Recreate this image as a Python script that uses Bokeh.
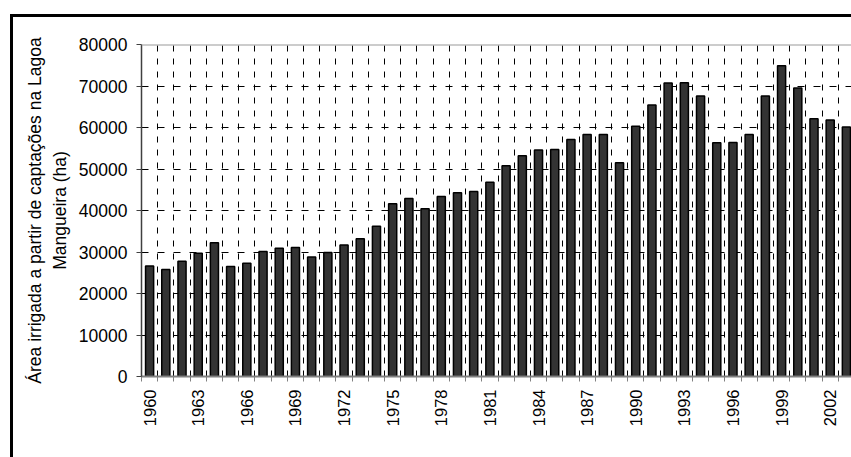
import math
from bokeh.plotting import figure
from bokeh.models import (Range1d, FixedTicker, LinearAxis, Span,
                          NumeralTickFormatter, ColumnDataSource)
from bokeh.embed import file_html
from bokeh.resources import INLINE

# Irrigated area per year (ha)
years = list(range(1960, 2004))
area_ha = [26600, 25800, 27800, 29700, 32200, 26500, 27300, 30100, 30900, 31100,
           28800, 29900, 31700, 33200, 36200, 41600, 42900, 40400, 43400, 44300,
           44600, 46800, 50800, 53200, 54600, 54700, 57100, 58300, 58300, 51500,
           60300, 65400, 70700, 70800, 67600, 56300, 56400, 58300, 67600, 74900,
           69500, 62100, 61800, 60100]
label_years = years[::3]
y_ticks = list(range(0, 80001, 10000))

FONT = "Liberation Sans"

idx = list(range(len(years)))
src = ColumnDataSource(dict(x=idx, area=area_ha))

p = figure(width=841, height=443, output_backend="svg", toolbar_location=None,
           x_range=Range1d(-0.5, 43.5), y_range=Range1d(0, 80000),
           min_border_left=128, min_border_right=0, min_border_top=27,
           min_border_bottom=84, outline_line_color=None,
           background_fill_color="white", border_fill_color="white")

# chart border: thick black edge on the top and left, page offset
p.styles = {"margin-left": "10px", "margin-top": "14px",
            "border-top": "3px solid black", "border-left": "3px solid black",
            "box-sizing": "border-box", "overflow": "hidden"}

p.vbar(x="x", top="area", width=0.5, source=src, fill_color="#333333",
       line_color="black", line_width=1.5)

# x axis: year labels every third bar, ticks at category boundaries
boundaries = [i - 0.5 for i in range(len(years) + 1)]
label_pos = [years.index(y) for y in label_years]
xt = FixedTicker(ticks=label_pos, minor_ticks=boundaries)
p.xaxis.ticker = xt
p.xaxis.major_label_overrides = {i: str(years[i]) for i in label_pos}
p.xaxis.major_label_orientation = math.pi / 2
p.xaxis.major_tick_line_color = None
p.xaxis.major_tick_out = 5
p.xaxis.major_tick_in = 0
p.xaxis.minor_tick_out = 5
p.xaxis.minor_tick_in = 0
p.xaxis.minor_tick_line_color = "#808080"
p.xaxis.axis_line_color = "#808080"
p.xaxis.axis_line_width = 2
p.xaxis.major_label_standoff = 8
p.xaxis.major_label_text_font = FONT
p.xaxis.major_label_text_font_size = "16.5px"
p.xaxis.major_label_text_color = "black"

# y axis
p.yaxis.ticker = FixedTicker(ticks=y_ticks)
p.yaxis.formatter = NumeralTickFormatter(format="0")
p.yaxis.minor_tick_line_color = None
p.yaxis.major_tick_out = 5
p.yaxis.major_tick_in = 0
p.yaxis.major_tick_line_color = "#404040"
p.yaxis.axis_line_color = "#404040"
p.yaxis.axis_line_width = 1.5
p.yaxis.major_label_standoff = 9
p.yaxis.major_label_text_font = FONT
p.yaxis.major_label_text_font_size = "17.5px"
p.yaxis.major_label_text_color = "black"
p.yaxis.axis_label = "Mangueira (ha)"
p.yaxis.axis_label_text_font = FONT
p.yaxis.axis_label_text_font_size = "17.5px"
p.yaxis.axis_label_text_font_style = "normal"
p.yaxis.axis_label_text_color = "black"
p.yaxis.axis_label_standoff = 6

# first line of the y title on its own bare axis
title_axis = LinearAxis(ticker=FixedTicker(ticks=[]), axis_line_color=None,
                        major_tick_line_color=None, minor_tick_line_color=None,
                        major_tick_out=0, major_label_standoff=0,
                        axis_label="Área irrigada a partir de captações na Lagoa",
                        axis_label_text_font=FONT, axis_label_text_font_size="17.5px",
                        axis_label_text_font_style="normal",
                        axis_label_text_color="black", axis_label_standoff=2)
p.add_layout(title_axis, "left")

# grid
p.xgrid.ticker = xt
p.xgrid.grid_line_color = None
p.xgrid.minor_grid_line_color = "black"
p.xgrid.minor_grid_line_dash = "6 7"
p.xgrid.minor_grid_line_width = 1
p.ygrid.ticker = FixedTicker(ticks=y_ticks[1:-1])
p.ygrid.grid_line_color = "black"
p.ygrid.grid_line_dash = "7 9"
p.ygrid.grid_line_width = 1

p.add_layout(Span(location=80000, dimension="width", line_color="#999999",
                  line_width=2))

open("out.html", "w").write(file_html(p, INLINE))
